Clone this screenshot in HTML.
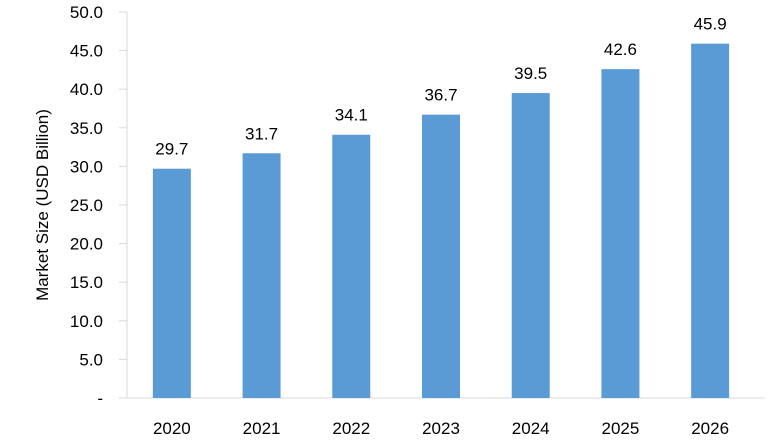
<!DOCTYPE html>
<html><head><meta charset="utf-8"><style>
body{margin:0;background:#fff}
svg{display:block;font-family:"Liberation Sans",sans-serif}
</style></head><body>
<svg id="c" width="780" height="440"></svg>
<script>
const categories=["2020","2021","2022","2023","2024","2025","2026"];
const values=[29.7,31.7,34.1,36.7,39.5,42.6,45.9];
const tickLabels=["-","5.0","10.0","15.0","20.0","25.0","30.0","35.0","40.0","45.0","50.0"];
const tickValues=[0,5,10,15,20,25,30,35,40,45,50];
const svg=document.getElementById('c');
const NS="http://www.w3.org/2000/svg";
const x0=127,x1=755,y0=398,y1=12,maxV=50;
const bw=(x1-x0)/categories.length;
const y=v=>y0-(v/maxV)*(y0-y1);
const xc=i=>x0+bw*(i+0.5);
function mk(t,a,txt){const e=document.createElementNS(NS,t);for(const k in a)e.setAttribute(k,a[k]);if(txt!=null)e.textContent=txt;svg.appendChild(e);return e;}
let e;
e=mk('line',{x1:x0,y1:y1,x2:x0,y2:y0,stroke:'#d9d9d9','stroke-width':1});


e=mk('line',{x1:x0-8,y1:y0,x2:x1+10,y2:y0,stroke:'#d9d9d9','stroke-width':1});


tickValues.forEach((v,i)=>{
 e=mk('line',{x1:x0-8,y1:y(v),x2:x0,y2:y(v),stroke:'#d9d9d9'});
 
 
 e=mk('text',{x:103,y:y(v)+6,'text-anchor':'end','font-size':17,fill:'#000'},tickLabels[i]);
 
 
});
categories.forEach((c,i)=>{
 const h=y0-y(values[i]);
 e=mk('rect',{x:xc(i)-19,y:y(values[i]),width:38,height:h,fill:'#5b9bd5'});
 
 
 e=mk('text',{x:xc(i),y:y(values[i])-14,'text-anchor':'middle','font-size':17,fill:'#000'},values[i].toFixed(1));
 
 
 e=mk('text',{x:xc(i),y:434,'text-anchor':'middle','font-size':17,fill:'#000'},c);
 
 
});
e=mk('text',{x:0,y:0,transform:'translate(48,205) rotate(-90)','text-anchor':'middle','font-size':17,fill:'#000'},'Market Size (USD Billion)');


</script>
</body></html>
